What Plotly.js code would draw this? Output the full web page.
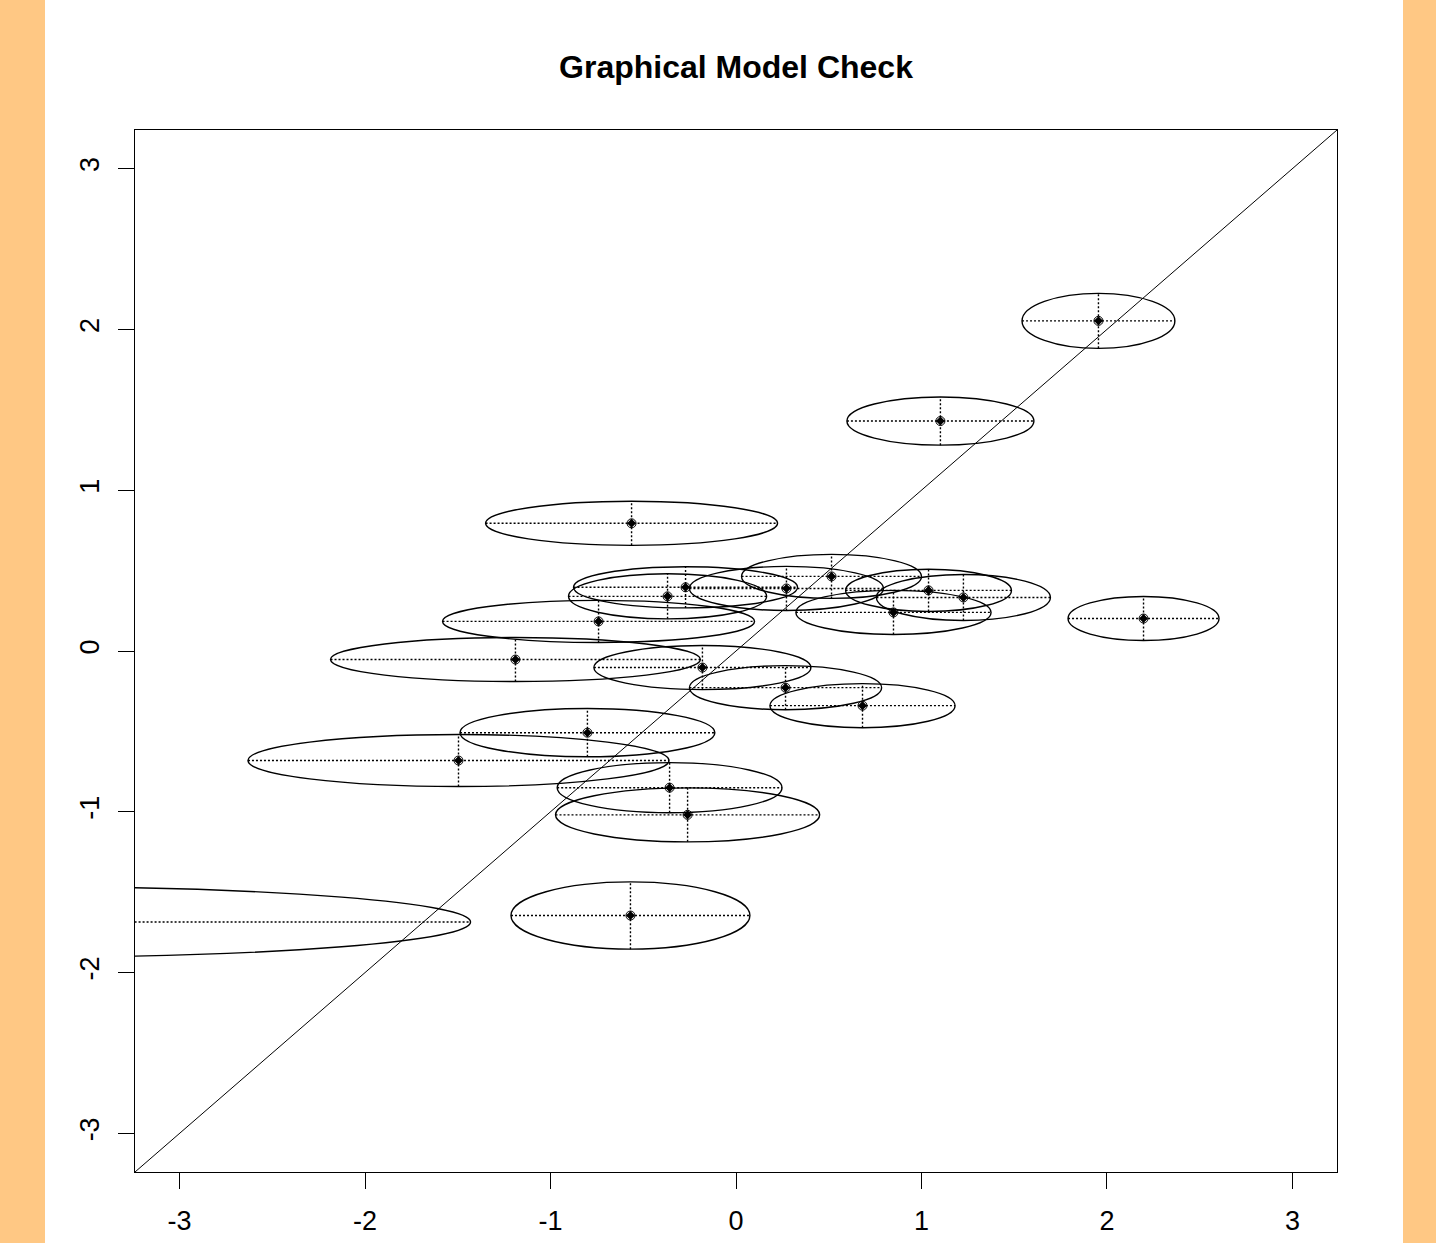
<!DOCTYPE html>
<html>
<head>
<meta charset="utf-8">
<script src="https://cdn.plot.ly/plotly-3.0.1.min.js"></script>
<style>
  html, body { margin: 0; padding: 0; }
  #wrap { width: 1436px; height: 1243px;
    background: linear-gradient(to right, #FFC884 0px, #FFC884 45px, #FFFFFF 45px, #FFFFFF 1403px, #FFC884 1403px, #FFC884 1436px); }
  #chart { width: 1436px; height: 1243px; }
</style>
</head>
<body>
<div id="wrap"><div id="chart"></div></div>
<script>
// Point estimates (centres) and ellipse half-widths / half-heights
const xs = [1.954, 1.102, -0.563, 2.197, -3.803, -1.189, -1.496, -0.801, -0.358, -0.261, -0.569, -0.741, -0.369, -0.272, 0.272, 0.515, 1.038, 1.226, 0.849, -0.181, 0.267, 0.682];
const ys = [2.053, 1.430, 0.794, 0.202, -1.685, -0.053, -0.681, -0.508, -0.850, -1.019, -1.645, 0.184, 0.340, 0.396, 0.389, 0.464, 0.377, 0.333, 0.240, -0.103, -0.228, -0.340];
const xRadius = [0.412, 0.504, 0.787, 0.407, 2.372, 0.997, 1.135, 0.687, 0.606, 0.712, 0.644, 0.841, 0.534, 0.604, 0.523, 0.485, 0.447, 0.469, 0.526, 0.585, 0.518, 0.499];
const yRadius = [0.171, 0.150, 0.137, 0.137, 0.218, 0.137, 0.162, 0.150, 0.156, 0.168, 0.209, 0.131, 0.140, 0.128, 0.137, 0.137, 0.131, 0.143, 0.137, 0.137, 0.137, 0.137];
const tickVals = [-3, -2, -1, 0, 1, 2, 3];
const tickText = ['-3', '-2', '-1', '0', '1', '2', '3'];
const identityLine = [-4, 4];
const axisRange = [-3.24, 3.24];

// dotted cross-hairs built from the arrays
const hx = [], hy = [], vx = [], vy = [];
for (let i = 0; i < xs.length; i++) {
  hx.push(xs[i] - xRadius[i], xs[i] + xRadius[i], null);
  hy.push(ys[i], ys[i], null);
  vx.push(xs[i], xs[i], null);
  vy.push(ys[i] - yRadius[i], ys[i] + yRadius[i], null);
}

const dotted = { color: '#000', width: 1.4, dash: '2px,2px' };
const traces = [
  { x: hx, y: hy, mode: 'lines', line: dotted, hoverinfo: 'skip', showlegend: false },
  { x: vx, y: vy, mode: 'lines', line: dotted, hoverinfo: 'skip', showlegend: false },
  { x: identityLine, y: identityLine, mode: 'lines', line: { color: '#000', width: 1 }, hoverinfo: 'skip', showlegend: false },
  { x: xs, y: ys, mode: 'markers', marker: { symbol: 'circle-open', size: 9, color: '#000', line: { width: 1, color: '#000' } }, showlegend: false },
  { x: xs, y: ys, mode: 'markers', marker: { symbol: 'diamond', size: 7, color: '#000' }, showlegend: false }
];

const shapes = xs.map((x, i) => ({
  type: 'circle', xref: 'x', yref: 'y',
  x0: x - xRadius[i], x1: x + xRadius[i],
  y0: ys[i] - yRadius[i], y1: ys[i] + yRadius[i],
  line: { color: '#000', width: 1.4 }, layer: 'above'
}));

const axisCommon = {
  range: axisRange, autorange: false,
  tickmode: 'array', tickvals: tickVals, ticktext: tickText,
  ticks: 'outside', ticklen: 16, tickwidth: 1, tickcolor: '#000',
  ticklabelstandoff: 8,
  showgrid: false, zeroline: false,
  showline: true, mirror: true, linecolor: '#000', linewidth: 1.3,
  tickfont: { family: 'Liberation Sans, Arial, sans-serif', size: 27, color: '#000' }
};

const layout = {
  width: 1436, height: 1243,
  margin: { l: 135, r: 99, t: 130, b: 71, pad: 0 },
  paper_bgcolor: 'rgba(0,0,0,0)', plot_bgcolor: 'rgba(0,0,0,0)',
  title: { text: '<b>Graphical Model Check</b>', x: 0.5, xref: 'paper', xanchor: 'center',
    y: 1 - 67 / 1243, yref: 'container', yanchor: 'middle',
    font: { family: 'Liberation Sans, Arial, sans-serif', size: 32, color: '#000' } },
  xaxis: Object.assign({}, axisCommon),
  yaxis: Object.assign({}, axisCommon, { tickangle: -90 }),
  shapes: shapes,
  showlegend: false
};

Plotly.newPlot('chart', traces, layout, { staticPlot: true, displayModeBar: false });
</script>
</body>
</html>
